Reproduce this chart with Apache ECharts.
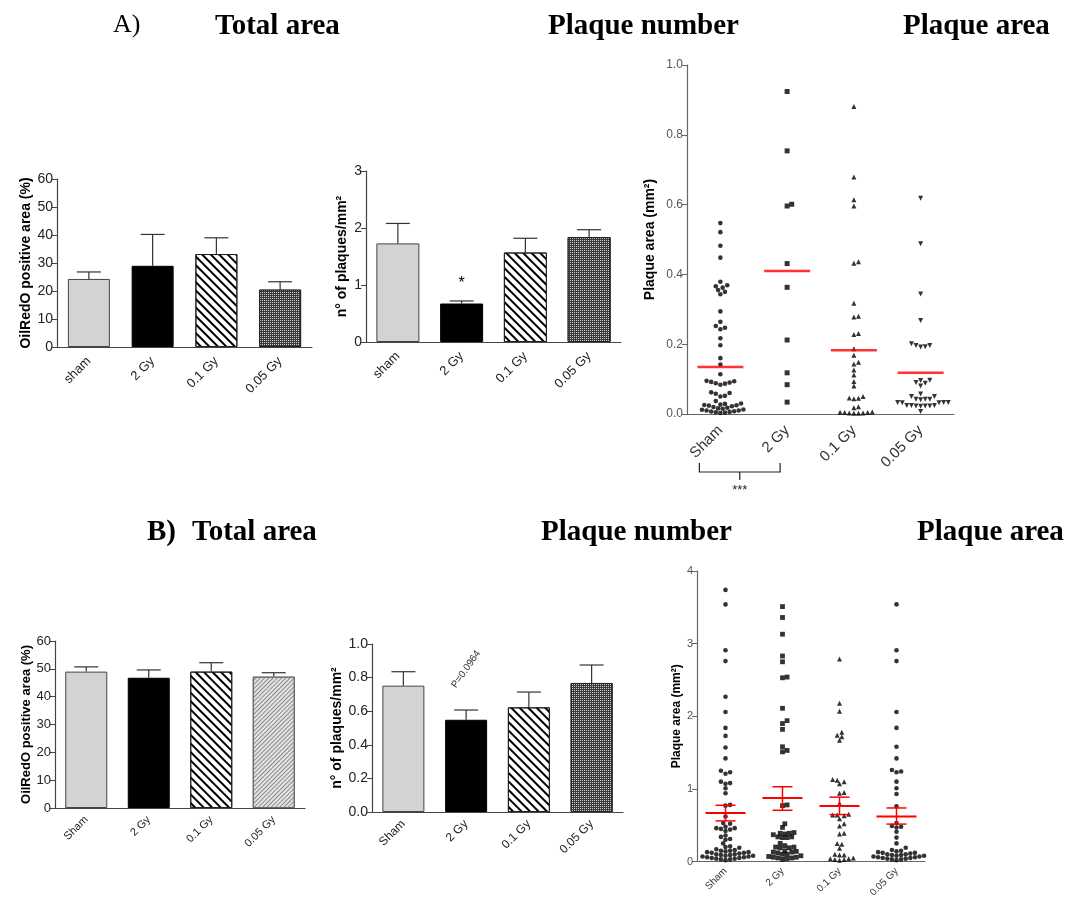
<!DOCTYPE html>
<html><head><meta charset="utf-8">
<script src="https://cdn.jsdelivr.net/npm/echarts@6/dist/echarts.min.js"></script>
<style>html,body{margin:0;padding:0;background:#fff}#c{width:1070px;height:900px}</style>
</head><body><div id="c"></div>
<script>
// ---------- data ----------
const catsA = ['sham', '2 Gy', '0.1 Gy', '0.05 Gy'];
const catsB = ['Sham', '2 Gy', '0.1 Gy', '0.05 Gy'];

const aTotalMean = [24.3, 29.0, 33.2, 20.5];
const aTotalErr  = [26.8, 40.2, 39.0, 23.3];
const aNumberMean = [1.73, 0.675, 1.57, 1.84];
const aNumberErr  = [2.08, 0.72, 1.82, 1.97];

const aAreaSham = [0.547, 0.521, 0.482, 0.448, 0.379, 0.369, 0.366, 0.362, 0.355, 0.350, 0.343, 0.294, 0.264,
  0.252, 0.247, 0.243, 0.217, 0.197, 0.160, 0.142, 0.114, 0.095, 0.094, 0.092, 0.090, 0.088, 0.087, 0.084,
  0.062, 0.060, 0.058, 0.052, 0.050, 0.037, 0.030, 0.029, 0.027, 0.026, 0.025, 0.024, 0.022, 0.020, 0.018,
  0.016, 0.015, 0.013, 0.012, 0.010, 0.010, 0.008, 0.007, 0.006, 0.005, 0.004, 0.003];
const aArea2Gy = [0.924, 0.754, 0.596, 0.601, 0.431, 0.363, 0.212, 0.118, 0.084, 0.034];
const aArea01Gy = [0.881, 0.679, 0.614, 0.596, 0.436, 0.432, 0.317, 0.280, 0.278, 0.231, 0.228, 0.187, 0.168,
  0.148, 0.143, 0.126, 0.112, 0.093, 0.080, 0.050, 0.046, 0.045, 0.044, 0.021, 0.018, 0.006, 0.005, 0.004,
  0.004, 0.003, 0.003, 0.002, 0.002];
const aArea005Gy = [0.618, 0.488, 0.344, 0.268, 0.201, 0.196, 0.193, 0.192, 0.196, 0.097, 0.096, 0.090, 0.088,
  0.080, 0.057, 0.050, 0.050, 0.042, 0.042, 0.041, 0.042, 0.033, 0.033, 0.032, 0.033, 0.032, 0.024, 0.024,
  0.023, 0.023, 0.024, 0.022, 0.023, 0.007];
const aAreaMean = [0.135, 0.41, 0.183, 0.118];

const bTotalMean = [49.0, 46.8, 49.0, 47.2];
const bTotalErr  = [50.7, 49.6, 52.2, 48.6];
const bNumberMean = [0.752, 0.549, 0.623, 0.768];
const bNumberErr  = [0.835, 0.607, 0.714, 0.875];

const bAreaSham = [3.74, 3.54, 2.91, 2.76, 2.27, 2.06, 1.84, 1.73, 1.57, 1.42, 1.25, 1.23, 1.21, 1.10, 1.08,
  1.07, 1.01, 0.94, 0.78, 0.77, 0.62, 0.53, 0.52, 0.48, 0.46, 0.46, 0.45, 0.44, 0.42, 0.36, 0.34, 0.31, 0.30,
  0.25, 0.21, 0.20, 0.19, 0.17, 0.16, 0.15, 0.15, 0.14, 0.13, 0.13, 0.12, 0.12, 0.11, 0.10, 0.10, 0.09, 0.09,
  0.08, 0.08, 0.07, 0.07, 0.06, 0.06, 0.05, 0.05, 0.04, 0.04, 0.03, 0.03, 0.02];
const bArea2Gy = [3.51, 3.36, 3.13, 2.83, 2.75, 2.54, 2.53, 2.11, 1.94, 1.90, 1.82, 1.58, 1.53, 1.51, 0.78,
  0.77, 0.52, 0.47, 0.40, 0.39, 0.39, 0.38, 0.37, 0.34, 0.34, 0.33, 0.33, 0.25, 0.22, 0.20, 0.20, 0.19, 0.19,
  0.15, 0.14, 0.13, 0.13, 0.12, 0.10, 0.10, 0.08, 0.07, 0.06, 0.06, 0.05, 0.05, 0.04, 0.03];
const bArea01Gy = [2.79, 2.18, 2.07, 1.78, 1.74, 1.72, 1.67, 1.13, 1.12, 1.10, 1.07, 0.95, 0.94, 0.80, 0.65,
  0.64, 0.64, 0.63, 0.59, 0.52, 0.49, 0.39, 0.38, 0.25, 0.24, 0.185, 0.10, 0.09, 0.09, 0.05, 0.04, 0.04,
  0.03, 0.03, 0.02];
const bArea005Gy = [3.54, 2.91, 2.76, 2.06, 1.84, 1.58, 1.42, 1.26, 1.24, 1.23, 1.10, 1.01, 0.93, 0.76, 0.53,
  0.49, 0.48, 0.47, 0.41, 0.33, 0.25, 0.19, 0.16, 0.15, 0.14, 0.13, 0.12, 0.12, 0.11, 0.10, 0.10, 0.09, 0.09,
  0.08, 0.08, 0.07, 0.07, 0.06, 0.06, 0.05, 0.05, 0.04, 0.04, 0.03, 0.03, 0.02];
const bAreaMean = [0.67, 0.874, 0.765, 0.62];
const bAreaLow  = [0.56, 0.706, 0.647, 0.516];
const bAreaHigh = [0.775, 1.03, 0.887, 0.738];

const aStar = [[1, 1.03, '*']];
const bPval = [[1.2, 0.85, 'P=0.0964']];

// ---------- styles ----------
const SANS = 'Liberation Sans, Arial, sans-serif';
const SERIF = 'Liberation Serif, Times New Roman, serif';

const stripe = {symbol: 'rect', dashArrayX: [1, 0], dashArrayY: [2, 3.5], rotation: Math.PI / 4, color: '#000'};
const checkDark = {symbol: 'rect', symbolSize: 1, dashArrayX: [1, 1], dashArrayY: [1, 1], color: '#cfcfcf'};
const hatchLight = {symbol: 'rect', dashArrayX: [1, 0], dashArrayY: [1, 2], rotation: -Math.PI / 4, color: '#8a8a8a'};

const styleA = [
  {color: '#d3d3d3', borderColor: '#444', borderWidth: 1},
  {color: '#000', borderColor: '#000', borderWidth: 1},
  {color: '#fff', borderColor: '#222', borderWidth: 1, decal: stripe},
  {color: '#3a3a3a', borderColor: '#222', borderWidth: 1, decal: checkDark}
];
const styleB1 = [styleA[0], styleA[1], styleA[2],
  {color: '#e4e4e4', borderColor: '#666', borderWidth: 1, decal: hatchLight}];
const styleB2 = styleA;

const grids = [
  {left: 57, top: 179, width: 255, height: 168},
  {left: 366, top: 171, width: 255, height: 171},
  {left: 687, top: 65, width: 267, height: 349},
  {left: 55, top: 641, width: 250, height: 167},
  {left: 372, top: 644, width: 251, height: 168},
  {left: 697, top: 571, width: 228, height: 294}
];

function xAxis(g, cats, fs, color, lineColor, margin) {
  return {type: 'category', gridIndex: g, data: cats, boundaryGap: true,
    axisLine: {lineStyle: {color: lineColor, width: 1.2}},
    axisTick: {alignWithLabel: true, length: 5, lineStyle: {color: lineColor}},
    axisLabel: {rotate: 45, fontSize: fs, color: color, fontFamily: SANS, margin: margin, interval: 0}};
}
function yAxis(g, min, max, interval, name, fs, nfs, gap, dec, color, lineColor) {
  return {type: 'value', gridIndex: g, min: min, max: max, interval: interval,
    name: name, nameLocation: 'middle', nameGap: gap, nameRotate: 90,
    nameTextStyle: {fontSize: nfs, fontWeight: 'bold', color: '#000', fontFamily: SANS},
    splitLine: {show: false},
    axisLine: {show: true, lineStyle: {color: lineColor, width: 1.2}},
    axisTick: {show: true, length: 5, lineStyle: {color: lineColor}},
    axisLabel: {fontSize: fs, color: color, fontFamily: SANS, margin: 4,
      formatter: v => dec ? v.toFixed(dec) : String(v)}};
}

function bars(g, vals, styles, w) {
  return {type: 'bar', xAxisIndex: g, yAxisIndex: g, barWidth: w, z: 2,
    data: vals.map((v, i) => ({value: v, itemStyle: styles[i]}))};
}
function errBars(g, means, errs, hw) {
  return {type: 'custom', xAxisIndex: g, yAxisIndex: g, z: 1, silent: true,
    data: means.map((m, i) => [i, m, errs[i]]),
    renderItem: (p, api) => {
      const a = api.coord([api.value(0), api.value(1)]);
      const b = api.coord([api.value(0), api.value(2)]);
      const st = {stroke: '#333', lineWidth: 1.2};
      return {type: 'group', children: [
        {type: 'line', shape: {x1: a[0], y1: a[1], x2: b[0], y2: b[1]}, style: st},
        {type: 'line', shape: {x1: b[0] - hw, y1: b[1], x2: b[0] + hw, y2: b[1]}, style: st}
      ]};
    }};
}
function dots(id, g, cat, vals, symbol, rot, size) {
  return {id: id, type: 'scatter', xAxisIndex: g, yAxisIndex: g, symbol: symbol, symbolRotate: rot,
    symbolSize: size, itemStyle: {color: '#000'}, z: 3, silent: true,
    data: vals.map(v => [cat, v])};
}
function textMarks(g, items, fs, rot, color) {
  return {type: 'custom', xAxisIndex: g, yAxisIndex: g, silent: true, z: 6,
    data: items,
    renderItem: (p, api) => {
      const c = api.coord([api.value(0), api.value(1)]);
      return {type: 'text', x: c[0], y: c[1], rotation: rot,
        style: {text: items[p.dataIndex][2], fontSize: fs, fontFamily: SANS, fill: color,
          align: 'center', verticalAlign: 'middle'}};
    }};
}

const titleStyle = (fw, fs) => ({fontFamily: SERIF, fontWeight: fw, fontSize: fs, color: '#000'});

const option = {
  animation: false,
  backgroundColor: '#fff',
  title: [
    {text: 'A)', left: 113, top: 12, padding: 0, textStyle: titleStyle('normal', 26)},
    {text: 'Total area', left: 215, top: 12, padding: 0, textStyle: titleStyle('bold', 29)},
    {text: 'Plaque number', left: 548, top: 12, padding: 0, textStyle: titleStyle('bold', 29)},
    {text: 'Plaque area', left: 903, top: 12, padding: 0, textStyle: titleStyle('bold', 29)},
    {text: 'B)', left: 147, top: 518, padding: 0, textStyle: titleStyle('bold', 29)},
    {text: 'Total area', left: 192, top: 518, padding: 0, textStyle: titleStyle('bold', 29)},
    {text: 'Plaque number', left: 541, top: 518, padding: 0, textStyle: titleStyle('bold', 29)},
    {text: 'Plaque area', left: 917, top: 518, padding: 0, textStyle: titleStyle('bold', 29)}
  ],
  grid: grids,
  xAxis: [
    xAxis(0, catsA, 13, '#222', '#444', 12),
    xAxis(1, catsA, 13, '#222', '#444', 12),
    xAxis(2, catsB, 15, '#333', '#666', 14),
    xAxis(3, catsB, 11, '#222', '#444', 10),
    xAxis(4, catsB, 12, '#222', '#444', 10),
    xAxis(5, catsB, 10, '#333', '#666', 8)
  ],
  yAxis: [
    yAxis(0, 0, 60, 10, 'OilRedO positive area (%)', 14, 14, 24, 0, '#222', '#444'),
    yAxis(1, 0, 3, 1, 'n° of plaques/mm²', 14, 14, 17, 0, '#222', '#444'),
    yAxis(2, 0, 1, 0.2, 'Plaque area (mm²)', 12, 14, 30, 1, '#555', '#666'),
    yAxis(3, 0, 60, 10, 'OilRedO positive area (%)', 13, 13, 22, 0, '#222', '#444'),
    yAxis(4, 0, 1, 0.2, 'n° of plaques/mm²', 14, 14, 28, 1, '#222', '#444'),
    yAxis(5, 0, 4, 1, 'Plaque area (mm²)', 11, 12, 14, 0, '#555', '#666')
  ],
  series: [
    errBars(0, aTotalMean, aTotalErr, 12), bars(0, aTotalMean, styleA, 42),
    errBars(1, aNumberMean, aNumberErr, 12), bars(1, aNumberMean, styleA, 43),
    textMarks(1, aStar, 16, 0, '#000'),
    dots('a0', 2, 0, aAreaSham, 'circle', 0, 4.6),
    dots('a1', 2, 1, aArea2Gy, 'rect', 0, 5),
    dots('a2', 2, 2, aArea01Gy, 'triangle', 0, 5),
    dots('a3', 2, 3, aArea005Gy, 'triangle', 180, 5),
    {type: 'scatter', xAxisIndex: 2, yAxisIndex: 2, symbol: 'rect', symbolSize: [46, 2.5], z: 5, silent: true,
      itemStyle: {color: '#ff0000'}, data: aAreaMean.map((v, i) => [i, v])},
    {type: 'custom', xAxisIndex: 2, yAxisIndex: 2, silent: true, z: 6, data: [[0, 1]],
      renderItem: (p, api) => {
        const a = api.coord([0, 0]), b = api.coord([1, 0]);
        const x1 = a[0] - 21, x2 = b[0] - 7, y = a[1] + 58, xm = (x1 + x2) / 2;
        const st = {stroke: '#222', lineWidth: 1.2, fill: null};
        return {type: 'group', children: [
          {type: 'polyline', shape: {points: [[x1, y - 9], [x1, y], [x2, y], [x2, y - 9]]}, style: st},
          {type: 'line', shape: {x1: xm, y1: y, x2: xm, y2: y + 8}, style: st},
          {type: 'text', x: xm, y: y + 18, style: {text: '***', fontSize: 13, fontFamily: SANS, fill: '#222',
            align: 'center', verticalAlign: 'middle'}}
        ]};
      }},
    errBars(3, bTotalMean, bTotalErr, 12), bars(3, bTotalMean, styleB1, 42),
    errBars(4, bNumberMean, bNumberErr, 12), bars(4, bNumberMean, styleB2, 42),
    textMarks(4, bPval, 10, Math.PI * 55 / 180, '#333'),
    dots('b0', 5, 0, bAreaSham, 'circle', 0, 4.6),
    dots('b1', 5, 1, bArea2Gy, 'rect', 0, 4.8),
    dots('b2', 5, 2, bArea01Gy, 'triangle', 0, 5),
    dots('b3', 5, 3, bArea005Gy, 'circle', 0, 4.6),
    {type: 'custom', xAxisIndex: 5, yAxisIndex: 5, silent: true, z: 6,
      data: bAreaMean.map((m, i) => [i, m, bAreaLow[i], bAreaHigh[i]]),
      renderItem: (p, api) => {
        const m = api.coord([api.value(0), api.value(1)]);
        const lo = api.coord([api.value(0), api.value(2)]);
        const hi = api.coord([api.value(0), api.value(3)]);
        const st = {stroke: '#ff0000', lineWidth: 2};
        return {type: 'group', children: [
          {type: 'line', shape: {x1: m[0] - 20, y1: m[1], x2: m[0] + 20, y2: m[1]}, style: st},
          {type: 'line', shape: {x1: lo[0], y1: lo[1], x2: hi[0], y2: hi[1]}, style: {stroke: '#ff0000', lineWidth: 1.5}},
          {type: 'line', shape: {x1: hi[0] - 10, y1: hi[1], x2: hi[0] + 10, y2: hi[1]}, style: {stroke: '#ff0000', lineWidth: 1.5}},
          {type: 'line', shape: {x1: lo[0] - 10, y1: lo[1], x2: lo[0] + 10, y2: lo[1]}, style: {stroke: '#ff0000', lineWidth: 1.5}}
        ]};
      }}
  ]
};

const chart = echarts.init(document.getElementById('c'), null, {renderer: 'canvas'});
chart.setOption(option);

// beeswarm layout computed from the axis scale
function swarm(vals, yAxisIndex, d) {
  const ys = vals.map(v => chart.convertToPixel({yAxisIndex: yAxisIndex}, v));
  const order = ys.map((y, i) => i).sort((a, b) => ys[b] - ys[a]);
  const placed = [];
  const off = new Array(vals.length).fill(0);
  for (const i of order) {
    const y = ys[i];
    for (let k = 0; k < 80; k++) {
      const dx = k === 0 ? 0 : (k % 2 ? 1 : -1) * Math.ceil(k / 2) * d * 0.5;
      if (placed.every(q => (q[0] - dx) ** 2 + (q[1] - y) ** 2 >= d * d * 0.85)) {
        off[i] = dx; placed.push([dx, y]); break;
      }
    }
  }
  return off;
}
const groups = [
  ['a0', aAreaSham, 2, 0], ['a1', aArea2Gy, 2, 1], ['a2', aArea01Gy, 2, 2], ['a3', aArea005Gy, 2, 3],
  ['b0', bAreaSham, 5, 0], ['b1', bArea2Gy, 5, 1], ['b2', bArea01Gy, 5, 2], ['b3', bArea005Gy, 5, 3]
];
chart.setOption({series: groups.map(([id, vals, ax, cat]) => {
  const off = swarm(vals, ax, 4.6);
  return {id: id, data: vals.map((v, i) => ({value: [cat, v], symbolOffset: [off[i], 0]}))};
})});
</script>
</body></html>
